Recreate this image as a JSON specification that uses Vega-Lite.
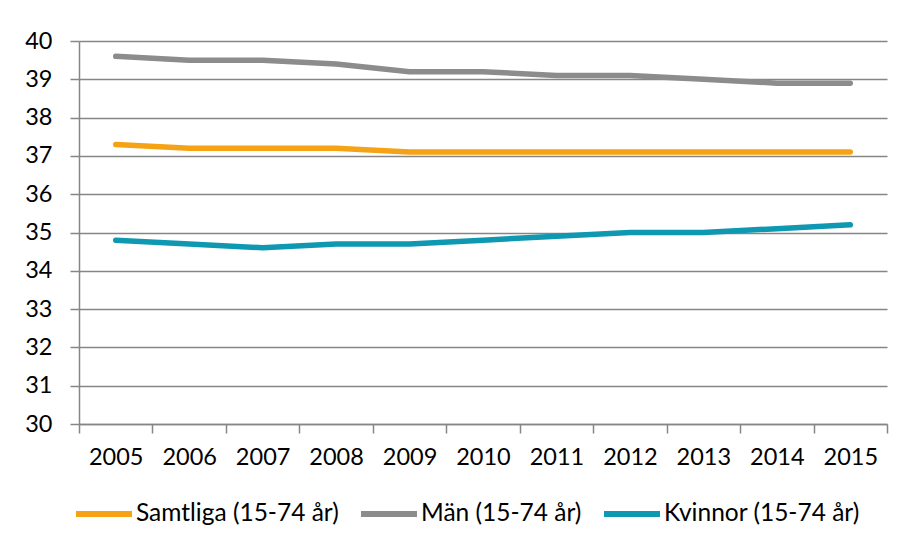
{
  "$schema": "https://vega.github.io/schema/vega-lite/v6.json",
  "width": 808,
  "height": 383,
  "autosize": {"type": "none"},
  "padding": {"left": 79, "top": 41, "right": 16, "bottom": 123},
  "background": "white",
  "config": {"view": {"stroke": null}, "font": "Lato"},
  "data": {
    "values": [
      {"year": "2005", "series": "Samtliga (15-74 år)", "value": 37.3},
      {"year": "2006", "series": "Samtliga (15-74 år)", "value": 37.2},
      {"year": "2007", "series": "Samtliga (15-74 år)", "value": 37.2},
      {"year": "2008", "series": "Samtliga (15-74 år)", "value": 37.2},
      {"year": "2009", "series": "Samtliga (15-74 år)", "value": 37.1},
      {"year": "2010", "series": "Samtliga (15-74 år)", "value": 37.1},
      {"year": "2011", "series": "Samtliga (15-74 år)", "value": 37.1},
      {"year": "2012", "series": "Samtliga (15-74 år)", "value": 37.1},
      {"year": "2013", "series": "Samtliga (15-74 år)", "value": 37.1},
      {"year": "2014", "series": "Samtliga (15-74 år)", "value": 37.1},
      {"year": "2015", "series": "Samtliga (15-74 år)", "value": 37.1},
      {"year": "2005", "series": "Män (15-74 år)", "value": 39.6},
      {"year": "2006", "series": "Män (15-74 år)", "value": 39.5},
      {"year": "2007", "series": "Män (15-74 år)", "value": 39.5},
      {"year": "2008", "series": "Män (15-74 år)", "value": 39.4},
      {"year": "2009", "series": "Män (15-74 år)", "value": 39.2},
      {"year": "2010", "series": "Män (15-74 år)", "value": 39.2},
      {"year": "2011", "series": "Män (15-74 år)", "value": 39.1},
      {"year": "2012", "series": "Män (15-74 år)", "value": 39.1},
      {"year": "2013", "series": "Män (15-74 år)", "value": 39.0},
      {"year": "2014", "series": "Män (15-74 år)", "value": 38.9},
      {"year": "2015", "series": "Män (15-74 år)", "value": 38.9},
      {"year": "2005", "series": "Kvinnor (15-74 år)", "value": 34.8},
      {"year": "2006", "series": "Kvinnor (15-74 år)", "value": 34.7},
      {"year": "2007", "series": "Kvinnor (15-74 år)", "value": 34.6},
      {"year": "2008", "series": "Kvinnor (15-74 år)", "value": 34.7},
      {"year": "2009", "series": "Kvinnor (15-74 år)", "value": 34.7},
      {"year": "2010", "series": "Kvinnor (15-74 år)", "value": 34.8},
      {"year": "2011", "series": "Kvinnor (15-74 år)", "value": 34.9},
      {"year": "2012", "series": "Kvinnor (15-74 år)", "value": 35.0},
      {"year": "2013", "series": "Kvinnor (15-74 år)", "value": 35.0},
      {"year": "2014", "series": "Kvinnor (15-74 år)", "value": 35.1},
      {"year": "2015", "series": "Kvinnor (15-74 år)", "value": 35.2}
    ]
  },
  "mark": {"type": "line", "strokeWidth": 5.5, "strokeCap": "round", "strokeJoin": "round"},
  "encoding": {
    "x": {
      "field": "year",
      "type": "ordinal",
      "bandPosition": 0.5,
      "scale": {"type": "band", "paddingInner": 0, "paddingOuter": 0},
      "axis": {
        "title": null,
        "labelAngle": 0,
        "tickBand": "extent",
        "grid": false,
        "domainColor": "#868686",
        "domainWidth": 1.5,
        "tickColor": "#868686",
        "tickWidth": 1.5,
        "tickSize": 9,
        "labelFont": "Lato",
        "labelFontSize": 23.5,
        "labelColor": "#000000",
        "labelPadding": 12
      }
    },
    "y": {
      "field": "value",
      "type": "quantitative",
      "scale": {"domain": [30, 40], "nice": false, "zero": false},
      "axis": {
        "title": null,
        "values": [30, 31, 32, 33, 34, 35, 36, 37, 38, 39, 40],
        "grid": true,
        "gridColor": "#868686",
        "gridWidth": 1.5,
        "domainColor": "#868686",
        "domainWidth": 1.5,
        "tickColor": "#868686",
        "tickWidth": 1.5,
        "tickSize": 9,
        "labelFont": "Lato",
        "labelFontSize": 23.5,
        "labelColor": "#000000",
        "labelPadding": 18
      }
    },
    "color": {
      "field": "series",
      "type": "nominal",
      "sort": ["Samtliga (15-74 år)", "Män (15-74 år)", "Kvinnor (15-74 år)"],
      "scale": {
        "domain": ["Samtliga (15-74 år)", "Män (15-74 år)", "Kvinnor (15-74 år)"],
        "range": ["#F5A314", "#8C8C8C", "#0E98B2"]
      },
      "legend": {
        "orient": "none",
        "legendX": -6,
        "legendY": 442,
        "direction": "horizontal",
        "columns": 3,
        "title": null,
        "symbolType": "stroke",
        "symbolSize": 3136,
        "symbolStrokeWidth": 6,
        "labelFont": "Lato",
        "labelFontSize": 24.5,
        "labelLimit": 0,
        "labelColor": "#000000",
        "labelOffset": 1,
        "columnPadding": 10
      }
    }
  }
}
